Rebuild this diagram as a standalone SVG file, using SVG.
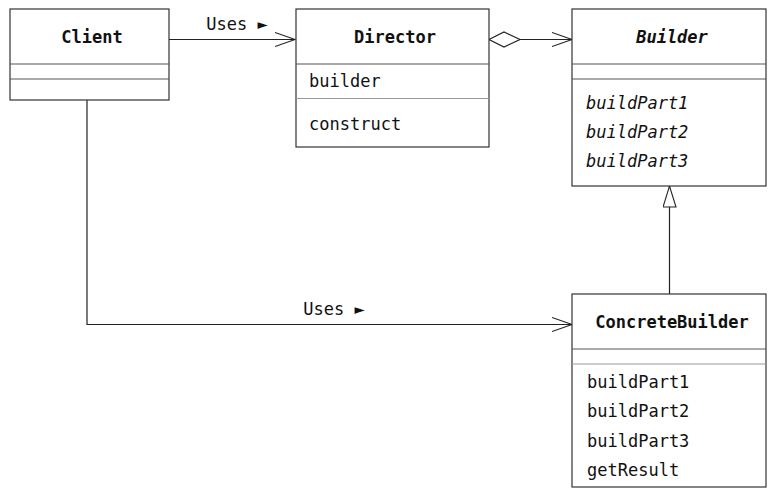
<svg xmlns="http://www.w3.org/2000/svg" width="773" height="499" viewBox="0 0 773 499">
  <style>
    .box { fill: #fff; stroke: #333; stroke-width: 1.2; }
    .div { stroke: #555; stroke-width: 1; }
    .div2 { stroke: #999; stroke-width: 1; }
    text { font-family: "DejaVu Sans Mono", "Liberation Mono", monospace; font-size: 17px; fill: #111; }
    .title { font-weight: bold; text-anchor: middle; }
    .it { font-style: italic; }
    .edge { fill: none; stroke: #222; stroke-width: 1.2; }
  </style>
  <defs>
    <marker id="open" markerWidth="22" markerHeight="16" refX="20" refY="8" orient="auto" markerUnits="userSpaceOnUse">
      <path d="M0,1 L20,8 L0,15" fill="none" stroke="#222" stroke-width="1.1"/>
    </marker>
    <marker id="tri" markerWidth="24" markerHeight="16" refX="22" refY="7" orient="auto" markerUnits="userSpaceOnUse">
      <path d="M1,0.5 L22,7 L1,13.5 Z" fill="#fff" stroke="#222" stroke-width="1.1"/>
    </marker>
  </defs>

  <g id="connectors">
    <!-- Client uses Director -->
    <line class="edge" x1="169" y1="39.5" x2="295" y2="39.5" marker-end="url(#open)"/>
    <text x="237" y="30" text-anchor="middle">Uses ►</text>
    <!-- Director aggregates Builder -->
    <path class="edge" d="M489,39.5 L504,32 L520,39.5 L504,47 Z" fill="#fff"/>
    <line class="edge" x1="520" y1="39.5" x2="572" y2="39.5" marker-end="url(#open)"/>
    <!-- Client uses ConcreteBuilder -->
    <polyline class="edge" points="87,100 87,324.5 572,324.5" marker-end="url(#open)"/>
    <text x="334" y="315" text-anchor="middle">Uses ►</text>
    <!-- ConcreteBuilder extends Builder -->
    <line class="edge" x1="669.5" y1="294" x2="669.5" y2="186" marker-end="url(#tri)"/>
  </g>

  <g id="client">
    <rect class="box" x="10" y="9" width="159" height="91"/>
    <line class="div" x1="10" y1="64" x2="169" y2="64"/>
    <line class="div" x1="10" y1="79" x2="169" y2="79"/>
    <text class="title" x="92" y="43">Client</text>
  </g>

  <g id="director">
    <rect class="box" x="296" y="9" width="193" height="138"/>
    <line class="div" x1="296" y1="64" x2="489" y2="64"/>
    <line class="div2" x1="296" y1="98.5" x2="489" y2="98.5"/>
    <text class="title" x="395" y="43">Director</text>
    <text x="309" y="87">builder</text>
    <text x="309" y="130">construct</text>
  </g>

  <g id="builder">
    <rect class="box" x="572" y="9" width="194" height="177"/>
    <line class="div" x1="572" y1="64" x2="766" y2="64"/>
    <line class="div" x1="572" y1="79" x2="766" y2="79"/>
    <text class="title it" x="672" y="43">Builder</text>
    <text class="it" x="586" y="109">buildPart1</text>
    <text class="it" x="586" y="138">buildPart2</text>
    <text class="it" x="586" y="167">buildPart3</text>
  </g>

  <g id="concrete-builder">
    <rect class="box" x="572" y="294" width="194" height="193"/>
    <line class="div" x1="572" y1="349" x2="766" y2="349"/>
    <line class="div2" x1="572" y1="364" x2="766" y2="364"/>
    <text class="title" x="672" y="328">ConcreteBuilder</text>
    <text x="587" y="388">buildPart1</text>
    <text x="587" y="417">buildPart2</text>
    <text x="587" y="447">buildPart3</text>
    <text x="587" y="476">getResult</text>
  </g>
</svg>
